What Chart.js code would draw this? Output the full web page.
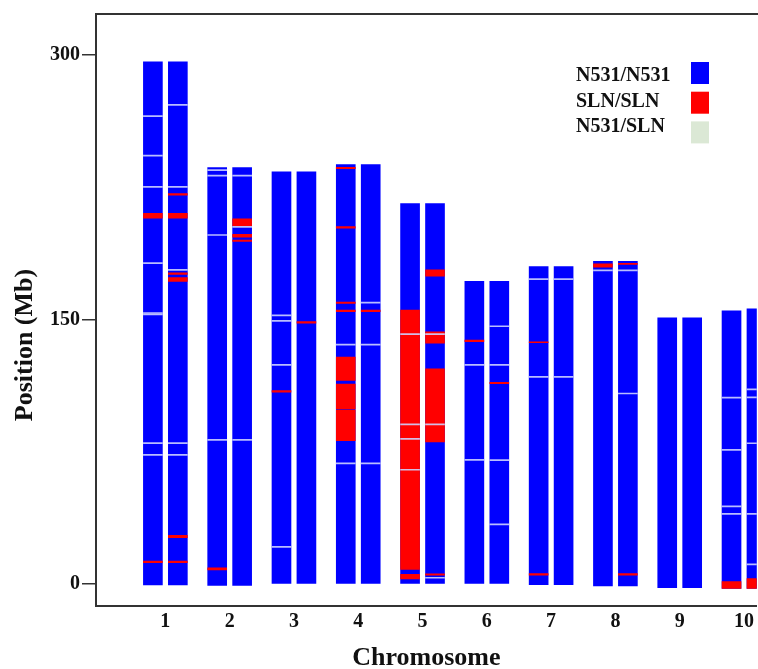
<!DOCTYPE html>
<html>
<head>
<meta charset="utf-8">
<script src="https://cdn.jsdelivr.net/npm/chart.js@4.4.1/dist/chart.umd.min.js"></script>
<style>
  html, body { margin: 0; padding: 0; background: #ffffff; overflow: hidden; }
  #wrap { width: 758px; height: 669px; position: relative; }
</style>
</head>
<body>
<div id="wrap"><canvas id="chart" width="758" height="669"></canvas></div>
<script>
// ---------------- DATA ----------------
const chromosomes = ['1', '2', '3', '4', '5', '6', '7', '8', '9', '10'];
const yTicks = [0, 150, 300];

// chromosome extents (Mb) for the two homologs (left bar / right bar)
const chrStart    = [-0.5, -0.7, 0, 0, 0, 0, -0.3, -1, -2, -2.4];
const chrEndLeft  = [295.9, 236.0, 233.6, 237.7, 215.6, 171.5, 179.9, 182.9, 150.8, 154.8];
const chrEndRight = [295.9, 236.0, 233.6, 237.7, 215.6, 171.5, 179.9, 182.9, 150.8, 155.9];

// SLN/SLN segments: [chromosome, homolog (0 = left, 1 = right), start Mb, end Mb]
const slnSegments = [
  [1, 0, 207.3, 210.0], [1, 0, 12.1, 13.1],
  [1, 1, 220.4, 221.2], [1, 1, 207.3, 210.0], [1, 1, 175.4, 176.3], [1, 1, 171.5, 173.7],
  [1, 1, 26.3, 27.6], [1, 1, 12.2, 13.0],
  [2, 0, 8.0, 9.2],
  [2, 1, 203.0, 207.0], [2, 1, 196.5, 198.2], [2, 1, 194.2, 194.9],
  [3, 0, 108.8, 109.6],
  [3, 1, 147.9, 148.7],
  [4, 0, 235.4, 236.2], [4, 0, 201.6, 202.6], [4, 0, 159.0, 159.8], [4, 0, 154.4, 155.3],
  [4, 0, 115.4, 128.6], [4, 0, 99.2, 113.4], [4, 0, 81.2, 98.6],
  [4, 1, 154.4, 155.3],
  [5, 0, 8.3, 155.2], [5, 0, 2.9, 5.5],
  [5, 1, 174.5, 178.0], [5, 1, 136.5, 143.0], [5, 1, 80.5, 122.0], [5, 1, 5.0, 5.8],
  [6, 0, 137.4, 138.3],
  [6, 1, 113.5, 114.3],
  [7, 0, 136.8, 137.3], [7, 0, 5.0, 6.0],
  [8, 0, 179.6, 181.4],
  [8, 1, 181.1, 181.7], [8, 1, 5.0, 6.0],
  [10, 0, -2.4, 1.5],
  [10, 1, -2.4, 3.2]
];

// thin light marker lines: [chromosome, homolog, position Mb]
const markerLines = [
  [1, 0, 265.1], [1, 0, 242.8], [1, 0, 225.0], [1, 0, 181.8], [1, 0, 153.6], [1, 0, 152.8], [1, 0, 79.9], [1, 0, 73.2],
  [1, 1, 271.5], [1, 1, 225.0], [1, 1, 178.0], [1, 1, 79.9], [1, 1, 73.2],
  [2, 0, 234.5], [2, 0, 231.4], [2, 0, 197.8], [2, 0, 81.7],
  [2, 1, 231.4], [2, 1, 202.4], [2, 1, 81.7],
  [3, 0, 152.2], [3, 0, 149.1], [3, 0, 124.2], [3, 0, 21.1],
  [4, 0, 135.7], [4, 0, 68.4],
  [4, 1, 159.5], [4, 1, 135.7], [4, 1, 68.4],
  [5, 0, 141.6], [5, 0, 90.5], [5, 0, 82.3], [5, 0, 64.8],
  [5, 1, 141.6], [5, 1, 90.5], [5, 1, 3.6],
  [6, 0, 124.2], [6, 0, 70.4],
  [6, 1, 146.1], [6, 1, 124.2], [6, 1, 70.2], [6, 1, 33.8],
  [7, 0, 172.8], [7, 0, 117.4],
  [7, 1, 172.8], [7, 1, 117.4],
  [8, 0, 177.7],
  [8, 1, 177.7], [8, 1, 108.0],
  [10, 0, 105.6], [10, 0, 76.0], [10, 0, 44.1], [10, 0, 39.8],
  [10, 1, 110.3], [10, 1, 105.8], [10, 1, 79.8], [10, 1, 39.8], [10, 1, 11.2]
];

const legendLabels = ['N531/N531', 'SLN/SLN', 'N531/SLN'];

// ---------------- STYLE ----------------
const BLUE = '#0000ff';
const RED = '#ff0000';
const HET = '#dbe8d5';
const LINE_COLOR = 'rgba(205,210,255,0.9)';
const PAIR = 0.194;          // half distance between homolog bars (x units)
const LINE_HALF = 0.3;       // half thickness of marker lines (Mb)
const FONT = "'Liberation Serif', 'Times New Roman', serif";

const homologX = (chr, h) => chr + (h === 0 ? -PAIR : PAIR);

const blueData = [];
chromosomes.forEach((c, i) => {
  blueData.push({ x: homologX(i + 1, 0), y: [chrStart[i], chrEndLeft[i]] });
  blueData.push({ x: homologX(i + 1, 1), y: [chrStart[i], chrEndRight[i]] });
});
const redData = slnSegments.map(s => ({ x: homologX(s[0], s[1]), y: [s[2], s[3]] }));
const lineData = markerLines.map(s => ({ x: homologX(s[0], s[1]), y: [s[2] - LINE_HALF, s[2] + LINE_HALF] }));

const barCommon = { barThickness: 19, grouped: false, borderWidth: 0, borderSkipped: false };

const customPlugin = {
  id: 'frameLegendTitle',
  afterDraw(chart) {
    const { ctx, chartArea } = chart;
    ctx.save();
    // top frame line
    ctx.strokeStyle = '#333';
    ctx.lineWidth = 2;
    ctx.beginPath();
    ctx.moveTo(chartArea.left - 1, chartArea.top);
    ctx.lineTo(chartArea.right + 2, chartArea.top);
    ctx.stroke();

    // legend (text left, swatch right)
    const colors = [BLUE, RED, HET];
    ctx.font = 'bold 20px ' + FONT;
    ctx.textAlign = 'left';
    ctx.textBaseline = 'middle';
    legendLabels.forEach((lab, i) => {
      ctx.fillStyle = '#111';
      ctx.fillText(lab, 576, 76 + i * 25.5);
      ctx.fillStyle = colors[i];
      ctx.fillRect(691, 62 + i * 29.7, 18, 22);
    });

    // y axis title
    ctx.translate(25, 345);
    ctx.rotate(-Math.PI / 2);
    ctx.font = 'bold 26px ' + FONT;
    ctx.textAlign = 'center';
    ctx.textBaseline = 'middle';
    ctx.fillStyle = '#111';
    ctx.fillText('Position (Mb)', 0, 0);
    ctx.restore();
  }
};

new Chart(document.getElementById('chart'), {
  type: 'bar',
  data: {
    datasets: [
      Object.assign({ label: 'markers', data: lineData, backgroundColor: LINE_COLOR }, barCommon),
      Object.assign({ label: 'SLN/SLN', data: redData, backgroundColor: RED }, barCommon),
      Object.assign({ label: 'N531/N531', data: blueData, backgroundColor: BLUE }, barCommon)
    ]
  },
  options: {
    responsive: false,
    devicePixelRatio: 1,
    animation: false,
    layout: { padding: { top: 10, left: 0, right: 0, bottom: 0 } },
    plugins: { legend: { display: false }, tooltip: { enabled: false } },
    scales: {
      x: {
        type: 'linear',
        offset: false,
        min: -0.079,
        max: 10.199,
        grid: { display: false, drawTicks: false },
        border: { display: true, color: '#333', width: 2 },
        afterBuildTicks: s => { s.ticks = chromosomes.map((c, i) => ({ value: i + 1 })); },
        ticks: {
          autoSkip: false,
          maxRotation: 0,
          padding: 4,
          color: '#111',
          font: { family: FONT, size: 20, weight: 'bold' },
          callback: (v, i) => chromosomes[i]
        },
        title: {
          display: true,
          text: 'Chromosome',
          color: '#111',
          padding: 0,
          font: { family: FONT, size: 26, weight: 'bold', lineHeight: 0.8 }
        },
        afterFit: s => { s.height = 63; }
      },
      y: {
        type: 'linear',
        min: -12.4,
        max: 323,
        grid: { display: true, drawOnChartArea: false, drawTicks: true, tickLength: 14, color: '#333', lineWidth: 1.5 },
        border: { display: true, color: '#333', width: 2 },
        afterBuildTicks: s => { s.ticks = yTicks.map(v => ({ value: v })); },
        ticks: {
          padding: 2,
          color: '#111',
          font: { family: FONT, size: 20, weight: 'bold' }
        },
        afterFit: s => { s.width = 96; }
      }
    }
  },
  plugins: [customPlugin]
});
</script>
</body>
</html>
